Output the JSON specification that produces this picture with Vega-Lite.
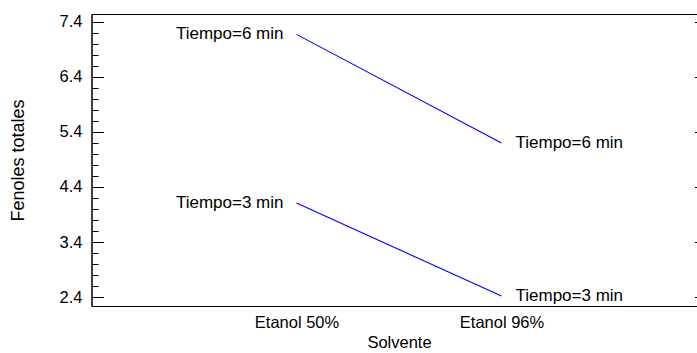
{
  "$schema": "https://vega.github.io/schema/vega-lite/v6.json",
  "width": 615,
  "height": 292,
  "autosize": {"type": "none"},
  "padding": {"left": 91.5, "top": 14, "right": 0, "bottom": 47},
  "background": "white",
  "config": {
    "font": "Liberation Sans",
    "view": {"stroke": "#000000", "strokeWidth": 1},
    "axis": {
      "grid": false,
      "domainColor": "#000000",
      "tickColor": "#000000",
      "labelColor": "#000000",
      "titleColor": "#000000",
      "labelFont": "Liberation Sans",
      "titleFont": "Liberation Sans",
      "labelFontSize": 16.5,
      "titleFontSize": 16.5,
      "titleFontWeight": "normal"
    }
  },
  "data": {
    "values": [
      {"solvente": "Etanol 50%", "serie": "Tiempo=6 min", "fenoles": 7.17},
      {"solvente": "Etanol 96%", "serie": "Tiempo=6 min", "fenoles": 5.2},
      {"solvente": "Etanol 50%", "serie": "Tiempo=3 min", "fenoles": 4.11},
      {"solvente": "Etanol 96%", "serie": "Tiempo=3 min", "fenoles": 2.42}
    ]
  },
  "encoding": {
    "x": {
      "field": "solvente",
      "type": "nominal",
      "sort": ["Etanol 50%", "Etanol 96%"],
      "scale": {"type": "point", "padding": 1.1016},
      "axis": {
        "title": "Solvente",
        "labelAngle": 0,
        "ticks": false,
        "labelPadding": 8,
        "titlePadding": 4
      }
    }
  },
  "layer": [
    {
      "mark": {"type": "line", "color": "#0000ff", "strokeWidth": 1.1},
      "encoding": {
        "detail": {"field": "serie"},
        "y": {
          "field": "fenoles",
          "type": "quantitative",
          "scale": {"domain": [2.24, 7.54], "nice": false, "zero": false},
          "axis": {
            "orient": "left",
            "title": "Fenoles totales",
            "titleFontSize": 18,
            "values": [2.4, 3.4, 4.4, 5.4, 6.4, 7.4],
            "format": ".1f",
            "tickSize": -12,
            "labelPadding": 21.5,
            "titlePadding": 32
          }
        }
      }
    },
    {
      "mark": {"type": "line", "opacity": 0},
      "encoding": {
        "detail": {"field": "serie"},
        "y": {
          "field": "fenoles",
          "type": "quantitative",
          "axis": {
            "orient": "left",
            "title": null,
            "labels": false,
            "domain": false,
            "values": [2.6, 2.8, 3.0, 3.2, 3.6, 3.8, 4.0, 4.2, 4.6, 4.8, 5.0, 5.2, 5.6, 5.8, 6.0, 6.2, 6.6, 6.8, 7.0, 7.2],
            "tickSize": -6.5
          }
        }
      }
    },
    {
      "mark": {"type": "line", "opacity": 0},
      "encoding": {
        "detail": {"field": "serie"},
        "y": {
          "field": "fenoles",
          "type": "quantitative",
          "axis": {
            "orient": "right",
            "title": null,
            "labels": false,
            "values": [2.4, 3.4, 4.4, 5.4, 6.4, 7.4],
            "tickSize": -12
          }
        }
      }
    },
    {
      "transform": [{"filter": "datum.solvente === 'Etanol 50%'"}],
      "mark": {"type": "text", "align": "right", "baseline": "middle", "dx": -13, "fontSize": 17, "color": "#000000"},
      "encoding": {
        "y": {"field": "fenoles", "type": "quantitative", "axis": null},
        "text": {"field": "serie"}
      }
    },
    {
      "transform": [{"filter": "datum.solvente === 'Etanol 96%'"}],
      "mark": {"type": "text", "align": "left", "baseline": "middle", "dx": 14, "fontSize": 17, "color": "#000000"},
      "encoding": {
        "y": {"field": "fenoles", "type": "quantitative", "axis": null},
        "text": {"field": "serie"}
      }
    }
  ],
  "resolve": {"scale": {"y": "shared"}, "axis": {"y": "independent"}}
}
